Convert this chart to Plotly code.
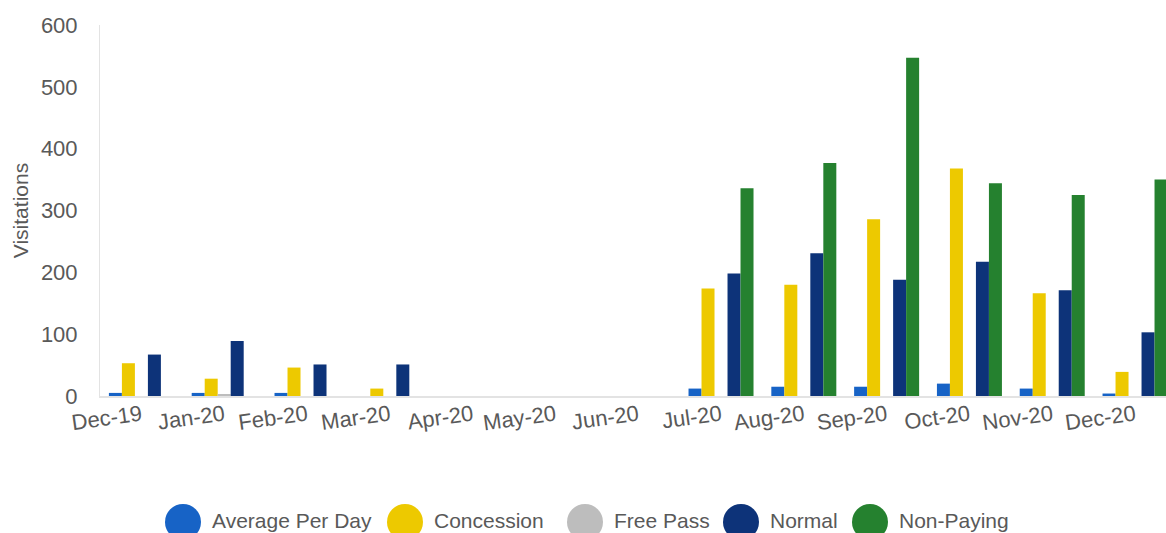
import plotly.graph_objects as go

# ---- data ----
months = ["Dec-19", "Jan-20", "Feb-20", "Mar-20", "Apr-20", "May-20", "Jun-20",
          "Jul-20", "Aug-20", "Sep-20", "Oct-20", "Nov-20", "Dec-20"]
average_per_day = [5, 5, 5, 0, 0, 0, 0, 12, 15, 15, 20, 12, 4]
concession = [53, 28, 46, 12, 0, 0, 0, 174, 180, 286, 368, 166, 39]
free_pass = [0, 2, 0, 0, 0, 0, 0, 0, 0, 0, 0, 0, 0]
normal = [67, 89, 51, 51, 0, 0, 0, 198, 231, 188, 217, 171, 103]
non_paying = [0, 0, 0, 0, 0, 0, 0, 336, 377, 547, 344, 325, 350]

series_names = ["Average Per Day", "Concession", "Free Pass", "Normal", "Non-Paying"]
series_values = [average_per_day, concession, free_pass, normal, non_paying]
y_ticks = [0, 100, 200, 300, 400, 500, 600]

# ---- style ----
colors = ["#1763C6", "#EDC900", "#BDBDBD", "#0D3379", "#25812F"]
FONT = "Arial, Liberation Sans, sans-serif"
TXT = "#595959"

W, H = 1166, 533
ML, MR, MT = 100, 0, 25
MB = H - 396

fig = go.Figure()
for name, vals, col in zip(series_names, series_values, colors):
    fig.add_trace(go.Bar(x=months, y=vals, name=name, marker=dict(color=col, line=dict(width=0)),
                         showlegend=False))

# custom legend (large circles), positions in window pixels
legend_cx = [183, 405, 585, 741, 870]
legend_cy = 522
pw = W - ML - MR
ph = H - MT - MB
base = H - MB  # y pixel of plot bottom
shapes, annos = [], []
for name, col, cx in zip(series_names, colors, legend_cx):
    xp = (cx - ML) / pw
    yp = (base - legend_cy) / ph
    shapes.append(dict(type="circle", xref="paper", yref="paper", xsizemode="pixel", ysizemode="pixel",
                       xanchor=xp, yanchor=yp, x0=-18, x1=18, y0=-18, y1=18,
                       fillcolor=col, line=dict(width=0)))
    annos.append(dict(xref="paper", yref="paper", x=(cx + 27 - ML) / pw,
                      y=(base - 520) / ph,
                      xanchor="left", yanchor="middle", text=name, showarrow=False,
                      font=dict(family=FONT, size=21, color=TXT)))

fig.update_layout(
    width=W, height=H,
    margin=dict(l=ML, r=MR, t=MT, b=MB, pad=0),
    paper_bgcolor="white", plot_bgcolor="white",
    barmode="group", bargap=0.215, bargroupgap=0,
    font=dict(family=FONT, size=22, color=TXT),
    shapes=shapes, annotations=annos,
    showlegend=False,
)
fig.update_xaxes(type="category", range=[-0.5, 12.374], tickangle=-8,
                 showline=True, linecolor="#E3E3E3", linewidth=2, showgrid=False,
                 ticks="", tickfont=dict(size=22, color=TXT), ticklabelstandoff=-4)
fig.update_yaxes(range=[0, 600], tickvals=y_ticks, showgrid=False, zeroline=False,
                 showline=True, linecolor="#E3E3E3", linewidth=1,
                 ticks="", tickfont=dict(size=22, color=TXT), ticklabelstandoff=17,
                 title=dict(text="Visitations", font=dict(size=21, color=TXT), standoff=6))

fig.write_html("out.html", config={"displayModeBar": False},
               post_script="document.body.style.margin='0';document.body.style.overflow='hidden';")
